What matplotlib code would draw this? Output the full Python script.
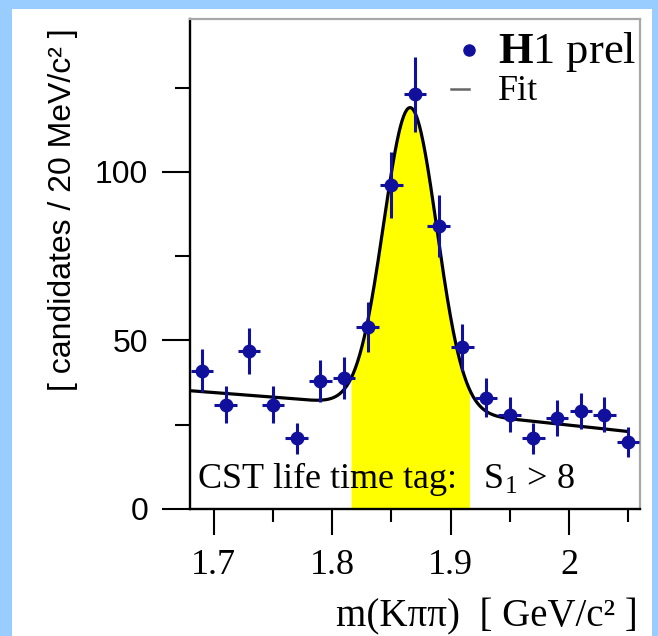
import numpy as np
import matplotlib
matplotlib.use("Agg")
import matplotlib.pyplot as plt
from matplotlib.patches import Rectangle
from matplotlib.lines import Line2D
from matplotlib.ticker import FuncFormatter

plt.rcParams['mathtext.fontset'] = 'custom'
plt.rcParams['mathtext.rm'] = 'Liberation Serif'
plt.rcParams['mathtext.it'] = 'Liberation Serif:italic'
plt.rcParams['mathtext.bf'] = 'Liberation Serif:bold'

# D+ -> K pi pi candidates, 20 MeV bins
mass = [1.69, 1.71, 1.73, 1.75, 1.77, 1.79, 1.81, 1.83, 1.85, 1.87,
        1.89, 1.91, 1.93, 1.95, 1.97, 1.99, 2.01, 2.03, 2.05]
counts = [41, 31, 47, 31, 21, 38, 39, 54, 96, 123,
          84, 48, 33, 28, 21, 27, 29, 28, 20]

# fit: gaussian signal on a quadratic background
fit_range = (1.68, 2.05)
bg_x0 = 1.68
bg_coef = [35.1, -26.3, -17.4]
sig_amp = 89.5
sig_mean = 1.866
sig_width = 0.0225
signal_window = (1.816, 1.916)

x_ticks = [1.7, 1.8, 1.9, 2.0]
x_minor = [1.75, 1.85, 1.95, 2.05]
y_ticks = [0, 50, 100]
y_minor = [25, 75, 125]

W, H = 658, 636
fig = plt.figure(figsize=(W / 100, H / 100), dpi=100)
fig.patch.set_facecolor('#99ccff')
fig.add_artist(Rectangle((12 / W, 0), (652 - 12) / W, 1 - 9 / H,
                         transform=fig.transFigure, facecolor='white',
                         edgecolor='none', zorder=-10))

ax = fig.add_axes([190 / W, 1 - 509 / H, 450 / W, 490 / H])
ax.set_xlim(1.68, 2.06)
ax.set_ylim(0, 145.4)


def fit_curve(x):
    t = x - bg_x0
    bg = bg_coef[0] + bg_coef[1] * t + bg_coef[2] * t ** 2
    return bg + sig_amp * np.exp(-0.5 * ((x - sig_mean) / sig_width) ** 2)


xf = np.linspace(fit_range[0], fit_range[1], 600)
yf = fit_curve(xf)
xs = np.linspace(signal_window[0], signal_window[1], 300)
ax.fill_between(xs, 0, fit_curve(xs), color='#ffff00', linewidth=0, zorder=1)
ax.plot(xf, yf, color='black', lw=2.3, zorder=2)

navy = '#10109c'
cnt = np.array(counts, dtype=float)
ax.errorbar(mass, cnt, yerr=np.sqrt(cnt), xerr=0.0095, fmt='o', ms=9,
            color=navy, ecolor=navy, elinewidth=2.2, capsize=0, zorder=3)

# spines
for s in ('left', 'bottom'):
    ax.spines[s].set_color('black')
    ax.spines[s].set_linewidth(1.7)
for s in ('top', 'right'):
    ax.spines[s].set_color('#a8a8a8')
    ax.spines[s].set_linewidth(1.6)

ax.set_xticks(x_ticks)
ax.set_xticks(x_minor, minor=True)
ax.set_yticks(y_ticks)
ax.set_yticks(y_minor, minor=True)
ax.xaxis.set_major_formatter(FuncFormatter(lambda v, _: f"{v:g}"))
ax.tick_params(axis='x', which='major', direction='out', length=19, width=1.5,
               pad=10, labelsize=26, labelfontfamily='Liberation Serif')
ax.tick_params(axis='x', which='minor', direction='out', length=9.5, width=1.5)
ax.tick_params(axis='y', which='major', direction='out', length=20, width=1.5,
               pad=10, labelsize=23, labelfontfamily='Liberation Sans')
ax.tick_params(axis='y', which='minor', direction='out', length=10.5, width=1.5)

# legend
ax.plot([0.62], [0.9367], 'o', ms=8, color=navy, transform=ax.transAxes,
        clip_on=False, zorder=4)
ax.add_line(Line2D([0.58, 0.62], [0.857, 0.857], color='#666666', lw=1.8,
                   transform=ax.transAxes))
ax.text(0.684, 0.9108, r"$\mathbf{H}$1 prel", transform=ax.transAxes,
        fontsize=32, family='Liberation Serif', va='baseline', ha='left')
ax.text(0.684, 0.8347, "Fit", transform=ax.transAxes,
        fontsize=26, family='Liberation Serif', va='baseline', ha='left')

ax.text(0.0156, 0.043, r"CST life time tag:   S$_{1}$ > 8", transform=ax.transAxes,
        fontsize=26, family='Liberation Serif', va='baseline', ha='left', zorder=5)

fig.text(638 / W, 1 - 626 / H, "m(Kππ)  [ GeV/c² ]", fontsize=28,
         family='Liberation Serif', ha='right', va='baseline')
fig.text(63 / W, 1 - 210 / H, "[ candidates / 20 MeV/c² ]", fontsize=23,
         family='Liberation Sans', rotation=90, ha='center', va='center')

fig.savefig('out.png', dpi=100)
